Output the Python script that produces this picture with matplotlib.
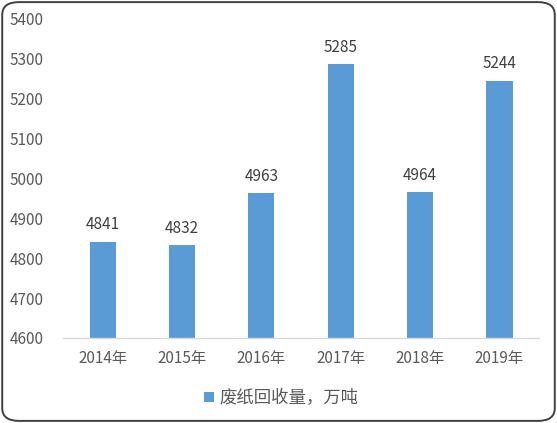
import matplotlib.pyplot as plt
from matplotlib.patches import FancyBboxPatch

plt.rcParams['font.family'] = ['Noto Sans CJK SC', 'DejaVu Sans']

years = ['2014年', '2015年', '2016年', '2017年', '2018年', '2019年']
values = [4841, 4832, 4963, 5285, 4964, 5244]
series_name = '废纸回收量，万吨'

TXT = '#595959'
BAR = '#5B9BD5'

fig = plt.figure(figsize=(5.57, 4.23), dpi=100)
ax = fig.add_axes([0.113, 0.201, 0.855, 0.756])

x = range(len(years))
bars = ax.bar(x, values, width=0.33, color=BAR, label=series_name, zorder=2)
for xi, v in zip(x, values):
    ax.annotate(str(v), (xi, v), xytext=(0, 6), textcoords='offset points',
                ha='center', va='bottom', fontsize=11, color='#404040')

ax.set_ylim(4600, 5400)
ax.set_yticks(range(4600, 5401, 100))
ax.set_xlim(-0.5, len(years) - 0.5)
ax.set_xticks(list(x))
ax.set_xticklabels(years)
ax.tick_params(axis='both', length=0, labelsize=11, labelcolor=TXT)
ax.tick_params(axis='x', pad=9)
ax.tick_params(axis='y', pad=14)
for s in ['top', 'right', 'left']:
    ax.spines[s].set_visible(False)
ax.spines['bottom'].set_color('#D9D9D9')
ax.spines['bottom'].set_linewidth(1.0)

leg = fig.legend(handles=[bars], labels=[series_name], loc='center',
                 bbox_to_anchor=(0.505, 0.059), frameon=False, fontsize=12.5,
                 handlelength=0.55, handleheight=0.55, handletextpad=0.35)
for t in leg.get_texts():
    t.set_color(TXT)

border = FancyBboxPatch((0.004, 0.005), 0.992, 0.99, transform=fig.transFigure,
                        boxstyle='round,pad=0,rounding_size=0.03',
                        fill=False, edgecolor='#404040', linewidth=1.4)
fig.patches.append(border)

fig.savefig('out.png', dpi=100)
